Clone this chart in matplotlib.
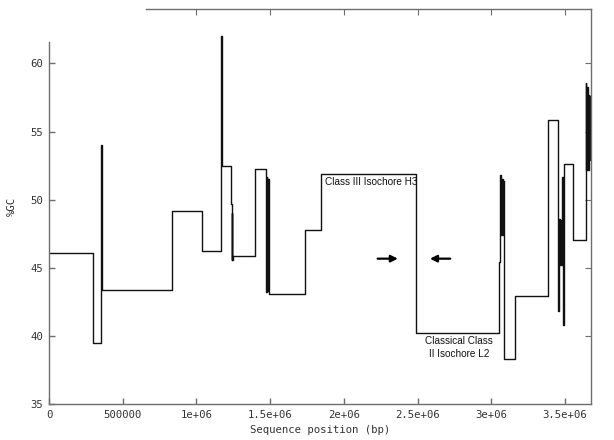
import numpy as np
import matplotlib
matplotlib.use("Agg")
import matplotlib.pyplot as plt

# window start (bp) -> %GC of that window, drawn as gnuplot-like steps
pos = [0, 296e3, 355e3, 360e3, 832e3, 1040e3, 1165e3, 1170e3,
       1235e3, 1238e3, 1241e3, 1244e3, 1247e3, 1395e3,
       1472e3, 1476e3, 1480e3, 1484e3, 1490e3, 1739e3, 1843e3, 2487e3,
       3054e3, 3062e3, 3068e3, 3072e3, 3077e3, 3082e3, 3086e3, 3163e3,
       3387e3, 3453e3, 3460e3, 3464e3, 3468e3, 3472e3, 3478e3, 3484e3,
       3490e3, 3554e3, 3640e3, 3645e3, 3650e3, 3655e3, 3661e3, 3665e3,
       3670e3, 3676e3]
gc = [46.05, 39.5, 54.0, 43.4, 49.2, 46.2, 62.0, 52.45,
      49.7, 45.6, 49.0, 45.55, 45.85, 52.25,
      43.2, 51.65, 43.3, 51.5, 43.05, 47.75, 51.9, 40.2,
      45.45, 51.8, 47.4, 51.5, 47.4, 51.4, 38.3, 42.9,
      55.85, 41.8, 48.55, 45.2, 48.5, 45.2, 51.65, 40.8,
      52.6, 47.05, 58.55, 52.15, 58.3, 52.2, 57.65, 52.9,
      57.6, 57.6]

xticks = [0, 5e5, 1e6, 1.5e6, 2e6, 2.5e6, 3e6, 3.5e6]
xlabels = ["0", "500000", "1e+06", "1.5e+06", "2e+06", "2.5e+06", "3e+06", "3.5e+06"]
yticks = [35, 40, 45, 50, 55, 60]

axis_col = "#6e6e6e"
txt_col = "#333333"
mono = "DejaVu Sans Mono"

fig = plt.figure(figsize=(6.14, 4.40), dpi=100)
ax = fig.add_axes([49 / 614, 36 / 440, 542 / 614, 395 / 440])

ax.plot(pos, gc, drawstyle="steps-post", color="#111111", lw=1.0)

ax.set_xlim(0, 3.676e6)
ax.set_ylim(35, 64)

ax.set_xticks(xticks)
ax.set_xticklabels(xlabels)
ax.set_yticks(yticks)
ax.tick_params(direction="in", length=4, width=1, color=axis_col,
               labelcolor=txt_col, labelsize=7.7, pad=4)
for lab in ax.get_xticklabels() + ax.get_yticklabels():
    lab.set_family(mono)

for s in ax.spines.values():
    s.set_color(axis_col)
    s.set_linewidth(1.0)
ax.spines["top"].set_bounds(656e3, 3.676e6)
ax.spines["left"].set_bounds(35, 61.55)

top = ax.secondary_xaxis("top")
top.set_xticks(xticks[2:])
top.set_xticklabels([])
top.tick_params(direction="in", length=4, color=axis_col)
top.spines["top"].set_visible(False)

right = ax.secondary_yaxis("right")
right.set_yticks(yticks[1:])
right.set_yticklabels([])
right.tick_params(direction="in", length=4, color=axis_col)
right.spines["right"].set_visible(False)

ax.set_xlabel("Sequence position (bp)", family=mono, fontsize=7.7,
              color=txt_col, labelpad=4)
ax.set_ylabel("%GC", family=mono, fontsize=7.7, color=txt_col, labelpad=10)

lbl = dict(family="Liberation Sans", fontsize=7.2, color="#111111")
ax.text(1.87e6, 51.3, "Class III Isochore H3", ha="left", va="center", **lbl)
ax.text(2.78e6, 39.62, "Classical Class", ha="center", va="center", **lbl)
ax.text(2.78e6, 38.7, "II Isochore L2", ha="center", va="center", **lbl)

arr = dict(arrowstyle="-|>", color="black", lw=1.6, mutation_scale=10)
ax.annotate("", xy=(2.385e6, 45.67), xytext=(2.21e6, 45.67), arrowprops=arr)
ax.annotate("", xy=(2.565e6, 45.67), xytext=(2.74e6, 45.67), arrowprops=arr)

fig.savefig("out.png", dpi=100)
